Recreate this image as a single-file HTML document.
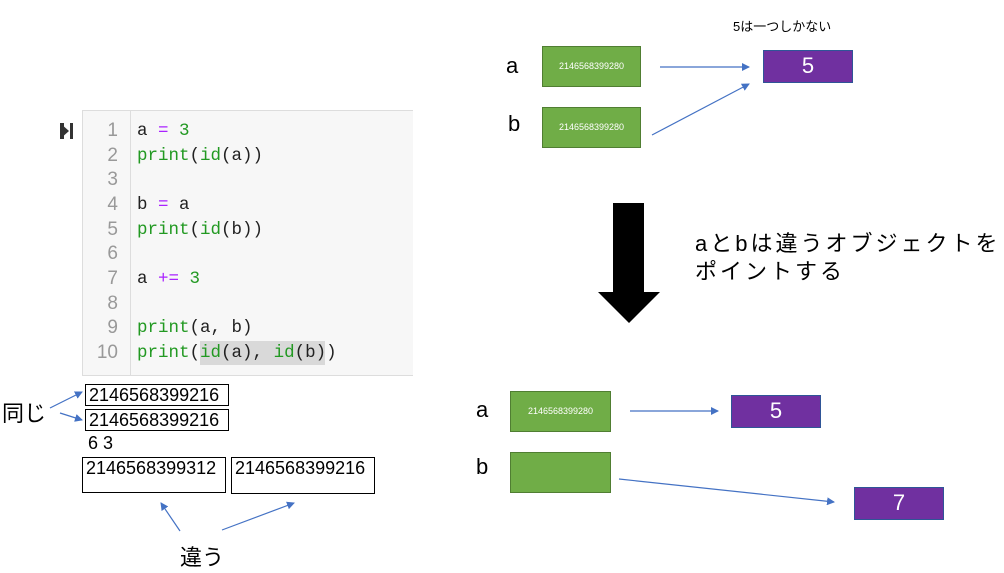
<!DOCTYPE html>
<html><head><meta charset="utf-8"><style>
body{margin:0;width:1004px;height:573px;background:#fff;position:relative;overflow:hidden;font-family:"Liberation Sans","Noto Sans CJK JP",sans-serif;}
.a{position:absolute;white-space:nowrap;}
.code{position:absolute;left:82px;top:110px;width:330px;height:264px;background:#f7f7f7;border:1px solid #ddd;border-right:none;}
.gut{position:absolute;left:130px;top:111px;width:1px;height:264px;background:#ddd;}
.ln{position:absolute;width:36px;left:82px;text-align:right;color:#999;font:19px "Liberation Sans Narrow","Liberation Sans",sans-serif;}
.cl{position:absolute;left:137px;font:17.5px "Liberation Mono","Noto Sans CJK JP",monospace;color:#222;}
.g{color:#229922}.p{color:#aa22ff}
.box{position:absolute;border:1px solid #000;font:18px "Liberation Sans",sans-serif;padding-left:3px;line-height:20px;}
.gr{position:absolute;background:#70ad47;border:1px solid #507e32;color:#fff;font-size:9px;text-align:center;box-sizing:border-box;}
.pu{position:absolute;background:#7030a0;border:1px solid #2f5597;color:#fff;font-size:22px;text-align:center;box-sizing:border-box;}
</style></head><body>
<div class="a" style="left:60px;top:123px;width:4px;height:16px;background:#333"></div>
<div class="a" style="left:60px;top:123px;width:0;height:0;border-left:9px solid #333;border-top:8px solid transparent;border-bottom:8px solid transparent"></div>
<div class="a" style="left:70px;top:123px;width:3px;height:16px;background:#333"></div>
<div class="code"></div><div class="gut"></div>
<div class="ln" style="top:120px">1</div><div class="ln" style="top:145px">2</div><div class="ln" style="top:169px">3</div><div class="ln" style="top:194px">4</div><div class="ln" style="top:219px">5</div><div class="ln" style="top:243px">6</div><div class="ln" style="top:268px">7</div><div class="ln" style="top:293px">8</div><div class="ln" style="top:317px">9</div><div class="ln" style="top:342px">10</div>
<div class="cl" style="top:121px">a <span class="p">=</span> <span class="g">3</span></div>
<div class="cl" style="top:146px"><span class="g">print</span>(<span class="g">id</span>(a))</div>
<div class="cl" style="top:195px">b <span class="p">=</span> a</div>
<div class="cl" style="top:220px"><span class="g">print</span>(<span class="g">id</span>(b))</div>
<div class="cl" style="top:269px">a <span class="p">+=</span> <span class="g">3</span></div>
<div class="cl" style="top:318px"><span class="g">print</span>(a, b)</div>
<div class="a" style="left:200px;top:341px;width:125px;height:24px;background:#d9d9d9"></div>
<div class="cl" style="top:343px"><span class="g">print</span>(<span class="g">id</span>(a), <span class="g">id</span>(b))</div>

<div class="box" style="left:85px;top:384px;width:139px;height:20px">2146568399216</div>
<div class="box" style="left:85px;top:409px;width:139px;height:20px">2146568399216</div>
<div class="a" style="left:88px;top:433px;font-size:18px">6&nbsp;3</div>
<div class="box" style="left:82px;top:457px;width:139px;height:34px">2146568399312</div>
<div class="box" style="left:231px;top:457px;width:139px;height:35px">2146568399216</div>
<div class="a" style="left:2px;top:396px;font-size:22px">同じ</div>
<div class="a" style="left:180px;top:540px;font-size:22px">違う</div>

<div class="a" style="left:733px;top:16px;font-size:13px">5は一つしかない</div>
<div class="a" style="left:506px;top:53px;font-size:22px">a</div>
<div class="a" style="left:508px;top:111px;font-size:22px">b</div>
<div class="gr" style="left:542px;top:46px;width:99px;height:41px;line-height:39px">2146568399280</div>
<div class="gr" style="left:542px;top:107px;width:99px;height:41px;line-height:39px">2146568399280</div>
<div class="pu" style="left:763px;top:50px;width:90px;height:33px;line-height:30px">5</div>

<div class="a" style="left:695px;top:230px;font-size:22px;letter-spacing:3px;line-height:28px">aとbは違うオブジェクトを<br>ポイントする</div>

<div class="a" style="left:476px;top:397px;font-size:22px">a</div>
<div class="a" style="left:476px;top:454px;font-size:22px">b</div>
<div class="gr" style="left:510px;top:391px;width:101px;height:41px;line-height:39px">2146568399280</div>
<div class="gr" style="left:510px;top:452px;width:101px;height:41px"></div>
<div class="pu" style="left:731px;top:395px;width:90px;height:33px;line-height:30px">5</div>
<div class="pu" style="left:854px;top:487px;width:90px;height:33px;line-height:30px">7</div>

<svg width="1004" height="573" style="position:absolute;left:0;top:0">
<defs><marker id="m" markerWidth="8" markerHeight="8" refX="7" refY="4" orient="auto" markerUnits="userSpaceOnUse"><path d="M0,0 L8,4 L0,8z" fill="#4472c4"/></marker></defs>
<g stroke="#4472c4" stroke-width="1.2" fill="none" marker-end="url(#m)">
<line x1="660" y1="67" x2="749" y2="67"/>
<line x1="652" y1="135" x2="749" y2="84"/>
<line x1="630" y1="411" x2="718" y2="411"/>
<line x1="619" y1="479" x2="834" y2="502"/>
<line x1="50" y1="408" x2="82" y2="392"/>
<line x1="60" y1="413" x2="82" y2="420"/>
<line x1="180" y1="531" x2="161" y2="503"/>
<line x1="222" y1="530" x2="294" y2="503"/>
</g>
<path d="M613,203 H644 V292 H660 L629,323 L598,292 H613Z" fill="#000"/>
</svg>
</body></html>
